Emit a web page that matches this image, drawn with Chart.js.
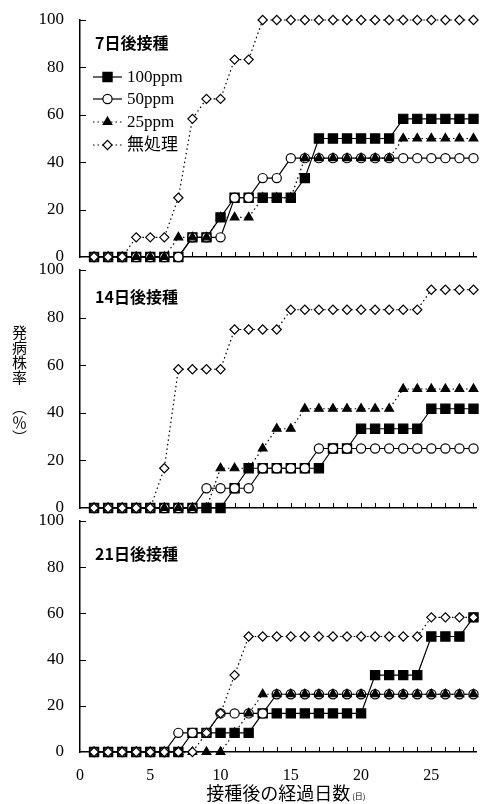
<!DOCTYPE html>
<html lang="ja">
<head>
<meta charset="utf-8">
<script src="https://cdn.jsdelivr.net/npm/chart.js@4/dist/chart.umd.min.js"></script>
<style>
    body { margin: 0; background: #fff; }
    #wrap { position: relative; width: 484px; height: 804px; overflow: hidden; }
    .panel { position: absolute; left: 0; }
    #yTitle {
        position: absolute; left: 12px; top: 325px;
        font: 15px "Noto Sans CJK JP"; line-height: 15px;
        writing-mode: vertical-rl; text-orientation: upright; color: #000;
    }
</style>
</head>
<body>
<div id="wrap">
    <canvas id="p7" class="panel" width="484" height="272" style="top:0px"></canvas>
    <canvas id="p14" class="panel" width="484" height="270" style="top:255px"></canvas>
    <canvas id="p21" class="panel" width="484" height="299" style="top:505px"></canvas>
    <div id="yTitle">発病株率　︵％︶</div>
</div>

<script>
    // days after inoculation
    const days = [1, 2, 3, 4, 5, 6, 7, 8, 9, 10, 11, 12, 13, 14, 15, 16, 17, 18, 19, 20, 21, 22, 23, 24, 25, 26, 27, 28];
    const seriesNames = ['100ppm', '50ppm', '25ppm', '無処理'];
    const panelTitles = ['7日後接種', '14日後接種', '21日後接種'];
    const xTitle = '接種後の経過日数';
    const xUnit = '(日)';

    // 7日後接種 (%)
    const d7_100 = [0, 0, 0, 0, 0, 0, 0, 8.3, 8.3, 16.7, 25, 25, 25, 25, 25, 33.3, 50, 50, 50, 50, 50, 50, 58.3, 58.3, 58.3, 58.3, 58.3, 58.3];
    const d7_50  = [0, 0, 0, 0, 0, 0, 0, 8.3, 8.3, 8.3, 25, 25, 33.3, 33.3, 41.7, 41.7, 41.7, 41.7, 41.7, 41.7, 41.7, 41.7, 41.7, 41.7, 41.7, 41.7, 41.7, 41.7];
    const d7_25  = [0, 0, 0, 0, 0, 0, 8.3, 8.3, 8.3, 16.7, 16.7, 16.7, 25, 25, 25, 41.7, 41.7, 41.7, 41.7, 41.7, 41.7, 41.7, 50, 50, 50, 50, 50, 50];
    const d7_0   = [0, 0, 0, 8.3, 8.3, 8.3, 25, 58.3, 66.7, 66.7, 83.3, 83.3, 100, 100, 100, 100, 100, 100, 100, 100, 100, 100, 100, 100, 100, 100, 100, 100];

    // 14日後接種 (%)
    const d14_100 = [0, 0, 0, 0, 0, 0, 0, 0, 0, 0, 8.3, 16.7, 16.7, 16.7, 16.7, 16.7, 16.7, 25, 25, 33.3, 33.3, 33.3, 33.3, 33.3, 41.7, 41.7, 41.7, 41.7];
    const d14_50  = [0, 0, 0, 0, 0, 0, 0, 0, 8.3, 8.3, 8.3, 8.3, 16.7, 16.7, 16.7, 16.7, 25, 25, 25, 25, 25, 25, 25, 25, 25, 25, 25, 25];
    const d14_25  = [0, 0, 0, 0, 0, 0, 0, 0, 0, 16.7, 16.7, 16.7, 25, 33.3, 33.3, 41.7, 41.7, 41.7, 41.7, 41.7, 41.7, 41.7, 50, 50, 50, 50, 50, 50];
    const d14_0   = [0, 0, 0, 0, 0, 16.7, 58.3, 58.3, 58.3, 58.3, 75, 75, 75, 75, 83.3, 83.3, 83.3, 83.3, 83.3, 83.3, 83.3, 83.3, 83.3, 83.3, 91.7, 91.7, 91.7, 91.7];

    // 21日後接種 (%)
    const d21_100 = [0, 0, 0, 0, 0, 0, 0, 8.3, 8.3, 8.3, 8.3, 8.3, 16.7, 16.7, 16.7, 16.7, 16.7, 16.7, 16.7, 16.7, 33.3, 33.3, 33.3, 33.3, 50, 50, 50, 58.3];
    const d21_50  = [0, 0, 0, 0, 0, 0, 8.3, 8.3, 8.3, 16.7, 16.7, 16.7, 16.7, 25, 25, 25, 25, 25, 25, 25, 25, 25, 25, 25, 25, 25, 25, 25];
    const d21_25  = [0, 0, 0, 0, 0, 0, 0, 0, 0, 0, 8.3, 16.7, 25, 25, 25, 25, 25, 25, 25, 25, 25, 25, 25, 25, 25, 25, 25, 25];
    const d21_0   = [0, 0, 0, 0, 0, 0, 0, 0, 8.3, 16.7, 33.3, 50, 50, 50, 50, 50, 50, 50, 50, 50, 50, 50, 50, 50, 58.3, 58.3, 58.3, 58.3];

    const serif = '"Liberation Serif", "Noto Sans CJK JP", serif';
    const gothic = '"Noto Sans CJK JP", sans-serif';

    // marker / line look for each series
    const seriesStyle = [
        { pointStyle: 'rect', radius: 6.5, fill: '#000', dash: [] },
        { pointStyle: 'circle', radius: 4.6, fill: '#fff', dash: [] },
        { pointStyle: 'triangle', radius: 5, fill: '#000', dash: [1.5, 3] },
        { pointStyle: 'rectRot', radius: 4.6, fill: '#fff', dash: [1.5, 3] }
    ];

    function drawMarker(ctx, st, x, y) {
        ctx.fillStyle = st.fill;
        ctx.strokeStyle = '#000';
        ctx.lineWidth = 1.2;
        ctx.setLineDash([]);
        if (Chart.helpers && Chart.helpers.drawPoint) {
            Chart.helpers.drawPoint(ctx, { pointStyle: st.pointStyle, radius: st.radius, borderWidth: 1.2, rotation: 0 }, x, y);
        }
    }

    // inward ticks, panel title, legend and the small unit after the x title
    const panelDeco = {
        id: 'panelDeco',
        beforeDatasetsDraw: function (chart) {
            const ctx = chart.ctx;
            const x = chart.scales.x;
            const y = chart.scales.y;
            ctx.save();
            ctx.strokeStyle = '#000';
            ctx.lineWidth = 1;
            ctx.beginPath();
            days.forEach(function (d) {
                const px = Math.round(x.getPixelForValue(d)) + 0.5;
                ctx.moveTo(px, y.bottom);
                ctx.lineTo(px, y.bottom - 5);
            });
            y.ticks.forEach(function (t) {
                if (t.value === 0) return;
                const py = Math.round(y.getPixelForValue(t.value)) + 0.5;
                ctx.moveTo(x.left, py);
                ctx.lineTo(x.left + 6, py);
            });
            ctx.stroke();
            ctx.restore();
        },
        afterDraw: function (chart, args, opts) {
            const ctx = chart.ctx;
            ctx.save();
            ctx.fillStyle = '#000';
            ctx.textBaseline = 'middle';
            ctx.font = 'bold 16px ' + gothic;
            ctx.fillText(opts.title, 95, opts.titleY);

            if (opts.legend) {
                const rows = [77, 99, 122, 145];
                chart.data.datasets.forEach(function (ds, i) {
                    const st = seriesStyle[i];
                    ctx.strokeStyle = '#000';
                    ctx.lineWidth = 1.2;
                    ctx.setLineDash(st.dash);
                    ctx.beginPath();
                    ctx.moveTo(93, rows[i]);
                    ctx.lineTo(122, rows[i]);
                    ctx.stroke();
                    drawMarker(ctx, st, 107.5, rows[i]);
                    ctx.fillStyle = '#000';
                    ctx.font = '17px ' + serif;
                    ctx.fillText(ds.label, 127, rows[i] + 1);
                });
            }

            if (opts.unit) {
                const x = chart.scales.x;
                ctx.font = '18px ' + gothic;
                const w = ctx.measureText(xTitle).width;
                const cx = (x.left + x.right) / 2;
                ctx.font = '8px ' + gothic;
                ctx.textAlign = 'left';
                ctx.fillText(opts.unit, cx + w / 2 + 2, chart.height - 8);
            }
            ctx.restore();
        }
    };

    function makeDatasets(lists) {
        return lists.map(function (vals, i) {
            const st = seriesStyle[i];
            return {
                label: seriesNames[i],
                data: days.map(function (d, j) { return { x: d, y: vals[j] }; }),
                borderColor: '#000',
                borderWidth: 1.2,
                borderDash: st.dash,
                pointStyle: st.pointStyle,
                pointRadius: st.radius,
                pointBackgroundColor: st.fill,
                pointBorderColor: '#000',
                pointBorderWidth: 1.2,
                tension: 0,
                clip: false,
                order: 4 - i
            };
        });
    }

    function makePanel(id, lists, cfg) {
        const axisLine = { display: true, color: '#000', width: 1.5 };
        return new Chart(document.getElementById(id), {
            type: 'line',
            data: { datasets: makeDatasets(lists) },
            options: {
                responsive: false,
                animation: false,
                events: [],
                layout: { padding: { top: cfg.padTop, left: 0, right: 4, bottom: 0 } },
                plugins: {
                    legend: { display: false },
                    tooltip: { enabled: false },
                    panelDeco: { title: cfg.title, titleY: cfg.titleY, legend: cfg.legend, unit: cfg.showX ? xUnit : '' }
                },
                scales: {
                    x: {
                        type: 'linear',
                        min: 0,
                        max: 28.2,
                        grid: { display: false, drawTicks: false },
                        border: axisLine,
                        ticks: {
                            display: cfg.showX,
                            stepSize: 5,
                            includeBounds: false,
                            padding: 16,
                            color: '#000',
                            font: { family: serif, size: 16, lineHeight: 1 }
                        },
                        title: {
                            display: cfg.showX,
                            text: xTitle,
                            color: '#000',
                            padding: 0,
                            font: { family: gothic, size: 18, lineHeight: 1.2 }
                        },
                        afterFit: function (s) {
                            s.height = cfg.xHeight;
                            s.paddingLeft = 0;
                            s.paddingRight = 0;
                        }
                    },
                    y: {
                        min: 0,
                        max: 100,
                        grid: { display: false, drawTicks: false },
                        border: axisLine,
                        ticks: {
                            stepSize: 20,
                            padding: 16,
                            color: '#000',
                            font: { family: serif, size: 17, lineHeight: 1 }
                        },
                        afterFit: function (s) {
                            s.width = 80;
                            s.paddingTop = 0;
                            s.paddingBottom = 0;
                        }
                    }
                }
            },
            plugins: [panelDeco]
        });
    }

    makePanel('p7', [d7_100, d7_50, d7_25, d7_0],
        { title: panelTitles[0], titleY: 43, legend: true, showX: false, padTop: 20, xHeight: 15 });
    makePanel('p14', [d14_100, d14_50, d14_25, d14_0],
        { title: panelTitles[1], titleY: 42, legend: false, showX: false, padTop: 15, xHeight: 17 });
    makePanel('p21', [d21_100, d21_50, d21_25, d21_0],
        { title: panelTitles[2], titleY: 49, legend: false, showX: true, padTop: 16, xHeight: 52 });
</script>
</body>
</html>
